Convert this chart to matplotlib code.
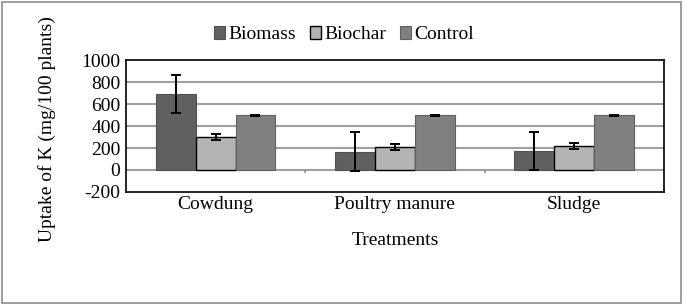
import numpy as np
import matplotlib
matplotlib.use("Agg")
import matplotlib.pyplot as plt
from matplotlib.patches import Rectangle

plt.rcParams['font.family'] = ['Liberation Serif', 'DejaVu Serif']
plt.rcParams['axes.unicode_minus'] = False

treatments = ['Cowdung', 'Poultry manure', 'Sludge']
biomass = [692, 168, 175]
biomass_err = [175, 175, 175]
biochar = [300, 210, 220]
biochar_err = [25, 28, 28]
control = [497, 497, 497]
control_err = [3, 3, 3]

fs = 14

fig = plt.figure(figsize=(6.85, 3.05), dpi=100)
fig.patches.append(Rectangle((0.003, 0.007), 0.991, 0.987, transform=fig.transFigure,
                             fill=False, edgecolor='#8c8c8c', linewidth=1.2))
ax = fig.add_axes([0.184, 0.371, 0.785, 0.431])

x = np.arange(len(treatments))
w = 0.222
ekw = dict(ecolor='black', elinewidth=1.4, capsize=3.5, capthick=1.4)
ax.bar(x - w, biomass, w, yerr=biomass_err, color='#606060', edgecolor='#505050',
       linewidth=0.8, label='Biomass', error_kw=ekw, zorder=3)
ax.bar(x, biochar, w, yerr=biochar_err, color='#b4b4b4', edgecolor='black',
       linewidth=1.0, label='Biochar', error_kw=ekw, zorder=3)
ax.bar(x + w, control, w, yerr=control_err, color='#808080', edgecolor='#606060',
       linewidth=0.8, label='Control', error_kw=ekw, zorder=3)

ax.set_xlim(-0.5, 2.5)
ax.set_ylim(-200, 1000)
ax.set_yticks(range(-200, 1001, 200))
ax.set_xticks(x)
ax.set_xticklabels(treatments, fontsize=fs)
ax.tick_params(axis='y', labelsize=fs, length=0, pad=4)
ax.tick_params(axis='x', length=0, pad=3)
for v in range(200, 1000, 200):
    ax.axhline(v, color='#a0a0a0', linewidth=1.5, zorder=1)
ax.axhline(0, color='#a0a0a0', linewidth=1.5, zorder=2)
ax.vlines([0.5, 1.5], -25, 0, color='#909090', linewidth=1.2, zorder=2)
for s in ax.spines.values():
    s.set_color('black')
    s.set_linewidth(1.2)

ax.set_ylabel('Uptake of K (mg/100 plants)', fontsize=fs)
ax.yaxis.set_label_coords(-0.13, 0.48)
ax.set_xlabel('Treatments', fontsize=fs, labelpad=14)

ax.legend(loc='lower center', bbox_to_anchor=(0.405, 1.07), ncol=3, frameon=False,
          fontsize=fs, handlelength=0.6, handleheight=0.6, handletextpad=0.15,
          columnspacing=0.7, borderaxespad=0)

fig.savefig('out.png', dpi=100)
